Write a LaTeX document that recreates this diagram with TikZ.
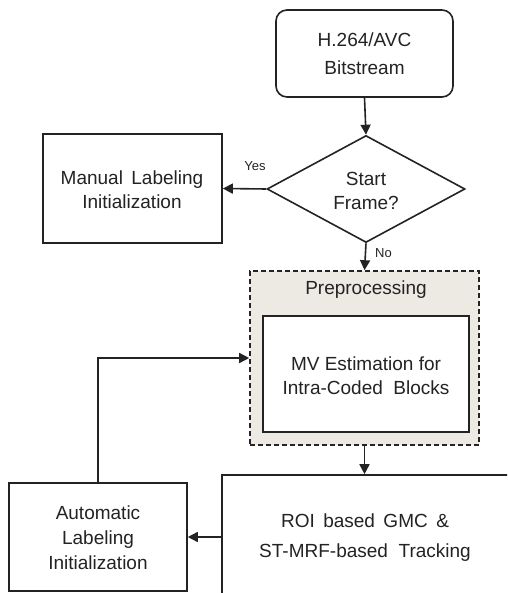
\documentclass[tikz,border=0pt]{standalone}
\usepackage{fontspec}
\setmainfont{Liberation Sans}
\usetikzlibrary{arrows.meta,shapes.geometric}
\definecolor{ink}{RGB}{35,35,35}
\definecolor{beige}{RGB}{236,234,226}
\tikzset{
  every node/.style={text=ink},
  box/.style={draw=ink, line width=1.6pt, fill=white, inner sep=0pt},
  txt/.style={align=center, font=\fontsize{19}{25}\selectfont, inner sep=0pt},
  small/.style={font=\fontsize{13}{14}\selectfont, inner sep=0pt},
  conn/.style={draw=ink, line width=1.6pt, -{Triangle[length=10pt,width=10pt]}},
}
\begin{document}
\begin{tikzpicture}[x=1pt,y=-1pt]
\useasboundingbox (0,0) rectangle (507,593);
\clip (0,0) rectangle (507,593);
% start
\node[box, rounded corners=11pt, minimum width=177pt, minimum height=87pt] (bit) at (364.5,53.5) {};
\node[txt, font=\fontsize{19}{28}\selectfont] (bittxt) at (364.5,54) {H.264/AVC\\Bitstream};
% decision
\node[box, diamond, aspect=1.85, minimum width=198pt, minimum height=107pt] (dia) at (366,189) {};
\node[txt, font=\fontsize{19}{24}\selectfont] (diatxt) at (366,191) {Start\\Frame?};
% manual
\node[box, minimum width=179pt, minimum height=109pt] (man) at (132.5,188.5) {};
\node[txt, font=\fontsize{19}{24.5}\selectfont] (mantxt) at (132,189.5) {Manual\, Labeling\\Initialization};
% preprocessing
\node[draw=ink, line width=1.6pt, dash pattern=on 5pt off 3pt, fill=beige, minimum width=229pt, minimum height=174pt, inner sep=0pt] (pre) at (364.5,358) {};
\node[txt] (pretxt) at (366,290) {Preprocessing};
\node[box, minimum width=206pt, minimum height=116pt] (mv) at (366,374) {};
\node[txt, font=\fontsize{19}{24}\selectfont] (mvtxt) at (366,375.5) {MV Estimation for\\Intra-Coded\ \ Blocks};
% ROI box (extends beyond the picture)
\node[box, minimum width=298pt, minimum height=135pt] (roi) at (371,542.5) {};
\node[txt, font=\fontsize{19}{30}\selectfont] (roitxt) at (365,537.5) {ROI\, based\, GMC\, \&\\ST-MRF-based\ \ Tracking};
% automatic
\node[box, minimum width=178pt, minimum height=108pt] (auto) at (98,537) {};
\node[txt, font=\fontsize{19}{25}\selectfont] (autotxt) at (98,538) {Automatic\\Labeling\\Initialization};
% connectors
\draw[conn] (bit.south) -- (dia.north);
\draw[conn] (dia.west) -- (man.east);
\node[small, anchor=south] (yes) at (255,171) {Yes};
\draw[conn] (dia.south) -- (pre.north);
\node[small, anchor=west] (no) at (375,253) {No};
\draw[conn] (pre.south) -- (pre.south |- roi.north);
\draw[conn] (auto.east -| roi.west) -- (auto.east);
\draw[conn] (auto.north) |- (pre.west);
\end{tikzpicture}
\end{document}
